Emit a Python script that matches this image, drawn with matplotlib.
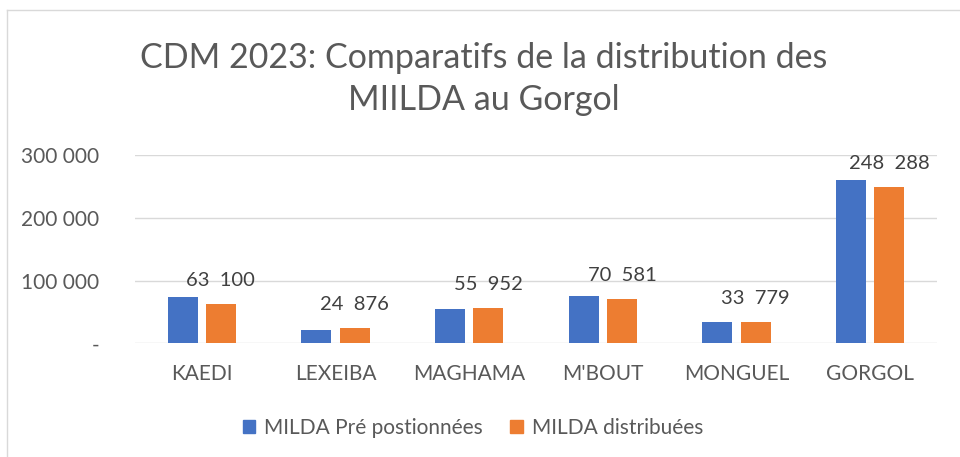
import matplotlib
matplotlib.use("Agg")
import matplotlib.pyplot as plt
import numpy as np
from matplotlib.lines import Line2D

plt.rcParams['font.family'] = ['Lato', 'DejaVu Sans']

categories = ["KAEDI", "LEXEIBA", "MAGHAMA", "M'BOUT", "MONGUEL", "GORGOL"]
pre_positionnees = [73000, 21000, 55000, 76000, 34000, 260000]
distribuees = [63100, 24876, 55952, 70581, 33779, 248288]
series_names = ["MILDA Pré postionnées", "MILDA distribuées"]
yticks = [0, 100000, 200000, 300000]
ytick_labels = ["-", "100 000", "200 000", "300 000"]
title = "CDM 2023: Comparatifs de la distribution des\nMIILDA au Gorgol"

BLUE = "#4472C4"
ORANGE = "#ED7D31"
TXT = "#595959"

W, H = 960, 457
fig = plt.figure(figsize=(W / 100, H / 100), dpi=100)
ax = fig.add_axes([135 / W, 1 - 343.3 / H, (937 - 135) / W, (343.3 - 155) / H])

x = np.arange(len(categories))
bw = 0.225
gap = 0.03
ax.bar(x - bw / 2 - gap, pre_positionnees, width=bw, color=BLUE, label=series_names[0])
ax.bar(x + bw / 2 + gap, distribuees, width=bw, color=ORANGE, label=series_names[1])

for xi, v in zip(x, distribuees):
    ax.annotate(f"{v:,}".replace(",", "  "), (xi + bw / 2 + gap, v), xytext=(0, 13),
                textcoords="offset points", ha="center", va="baseline",
                fontsize=14.5, color="#404040")

ax.set_xlim(-0.5, len(categories) - 0.5)
ax.set_ylim(0, 300000)
ax.set_yticks(yticks)
ax.set_yticklabels(ytick_labels)
ax.set_xticks(x)
ax.set_xticklabels(categories)
ax.tick_params(axis='both', length=0, labelsize=15, colors=TXT)
ax.tick_params(axis='x', pad=15)
ax.tick_params(axis='y', pad=26)
for lbl in ax.get_yticklabels():
    lbl.set_color(TXT)
ax.grid(axis='y', color="#D9D9D9", linewidth=1)
ax.set_axisbelow(True)
for s in ax.spines.values():
    s.set_visible(False)

fig.text(484 / W, 1 - 79 / H, title, ha="center", va="center", fontsize=24.5,
         color=TXT, linespacing=1.35)

handles = [plt.Rectangle((0, 0), 1, 1, color=BLUE), plt.Rectangle((0, 0), 1, 1, color=ORANGE)]
fig.legend(handles, series_names, loc="center", bbox_to_anchor=(473 / W, 1 - 428 / H),
           ncol=2, frameon=False, fontsize=15, handlelength=0.6, handleheight=0.6,
           handletextpad=0.45, columnspacing=1.3, labelcolor=TXT)

fig.add_artist(Line2D([7 / W, 7 / W], [0, 1 - 10 / H], transform=fig.transFigure,
                      color="#D9D9D9", linewidth=1))
fig.add_artist(Line2D([7 / W, 1], [1 - 10 / H, 1 - 10 / H], transform=fig.transFigure,
                      color="#D9D9D9", linewidth=1))

fig.savefig("out.png", dpi=100)
